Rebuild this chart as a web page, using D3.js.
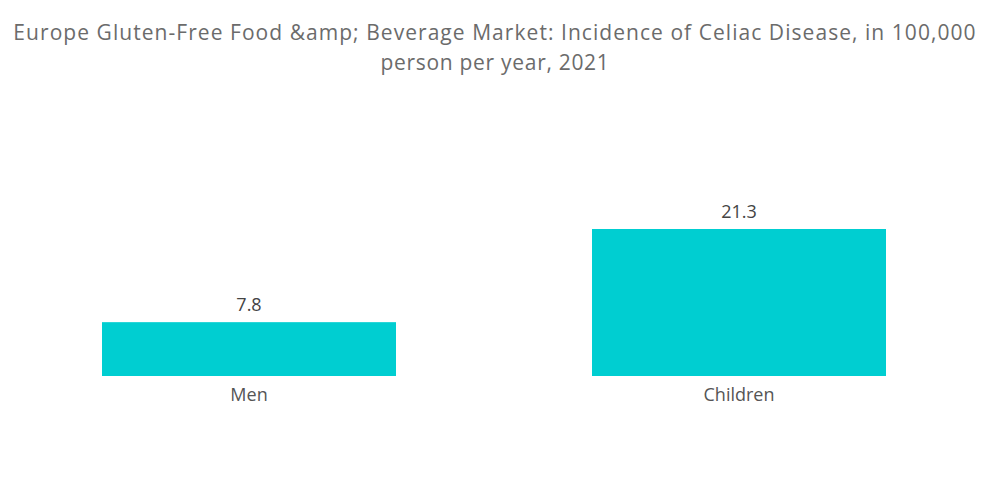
<!DOCTYPE html>
<html>
<head>
<meta charset="utf-8">
<script src="https://cdn.jsdelivr.net/npm/d3@7"></script>
<style>
  body { margin: 0; background: #fff; }
  text { font-family: "Open Sans", sans-serif; }
</style>
</head>
<body>
<script>
const w = 1000;
const h = 504;

const titleLines = [
  "Europe Gluten-Free Food &amp; Beverage Market: Incidence of Celiac Disease, in 100,000",
  "person per year, 2021"
];
const categories = ["Men", "Children"];
const values = [7.8, 21.3];

const svg = d3
  .select("body")
  .append("svg")
  .attr("width", w)
  .attr("height", h);

// title sits a touch left of centre in the original
svg
  .append("g")
  .selectAll("text")
  .data(titleLines)
  .enter()
  .append("text")
  .attr("x", w / 2 - 5)
  .attr("y", (d, i) => 40 + i * 30)
  .attr("text-anchor", "middle")
  .attr("font-size", 21)
  .attr("letter-spacing", (d, i) => (i === 0 ? 1.05 : 0.7))
  .attr("fill", "#6b6b6b")
  .text((d) => d);

const xScale = d3
  .scaleBand()
  .domain(categories)
  .range([4, 984])
  .paddingInner(0.4)
  .paddingOuter(0.2);

const yScale = d3.scaleLinear().domain([0, 21.3]).range([376, 229]);

const data = categories.map((c, i) => ({ cat: c, val: values[i] }));

svg
  .selectAll("rect.bar")
  .data(data)
  .enter()
  .append("rect")
  .attr("class", "bar")
  .attr("x", (d) => xScale(d.cat))
  .attr("y", (d) => yScale(d.val))
  .attr("width", xScale.bandwidth())
  .attr("height", (d) => yScale(0) - yScale(d.val))
  .attr("fill", "#00ced1");

svg
  .selectAll("text.value")
  .data(data)
  .enter()
  .append("text")
  .attr("class", "value")
  .attr("x", (d) => xScale(d.cat) + xScale.bandwidth() / 2)
  .attr("y", (d) => yScale(d.val) - 11)
  .attr("text-anchor", "middle")
  .attr("font-size", 18)
  .attr("fill", "#444")
  .text((d) => d.val);

const xAxis = d3.axisBottom(xScale).tickSize(0).tickPadding(12);
const axisG = svg
  .append("g")
  .attr("transform", "translate(0," + yScale(0) + ")")
  .call(xAxis);
axisG.select(".domain").remove();
axisG
  .selectAll("text")
  .attr("font-size", 18)
  .attr("font-family", "'Open Sans', sans-serif")
  .attr("fill", "#555");
</script>
</body>
</html>
